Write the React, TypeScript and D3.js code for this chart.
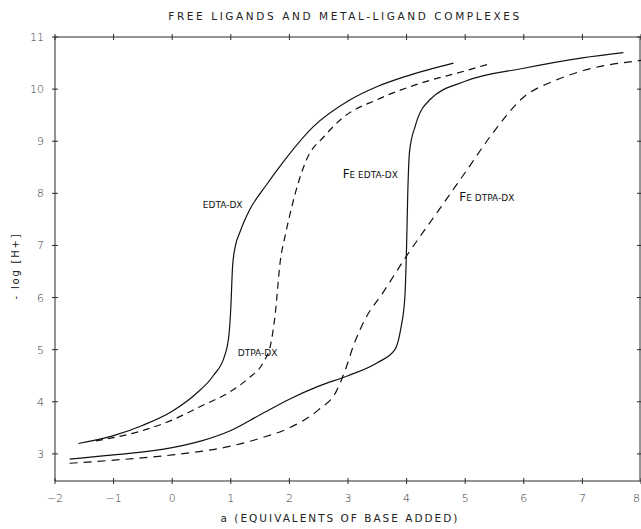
import React, { useEffect, useRef } from 'react';
import * as d3 from 'd3';

// curves: [a, -log[H+]]
const edta: [number, number][] = [
  [-1.6, 3.2], [-1, 3.35], [-0.5, 3.55], [0, 3.82], [0.4, 4.15], [0.7, 4.5], [0.9, 4.9],
  [0.97, 5.3], [1.0, 5.8], [1.03, 6.59], [1.08, 7.0], [1.15, 7.24], [1.32, 7.68], [1.6, 8.15],
  [1.88, 8.58], [2.4, 9.27], [3.03, 9.79], [3.5, 10.05], [4.0, 10.25], [4.8, 10.5],
];
const dtpa: [number, number][] = [
  [-1.3, 3.25], [-0.5, 3.45], [0, 3.65], [0.5, 3.92], [1.0, 4.2], [1.3, 4.45], [1.55, 4.75],
  [1.68, 5.1], [1.76, 5.7], [1.84, 6.66], [1.93, 7.2], [2.0, 7.55], [2.1, 8.0], [2.29, 8.64], [2.6, 9.1],
  [2.91, 9.45], [3.5, 9.8], [4.2, 10.1], [5.0, 10.35], [5.4, 10.48],
];
const feEdta: [number, number][] = [
  [-1.75, 2.9], [-1, 2.98], [0, 3.12], [0.5, 3.25], [1, 3.45], [1.5, 3.75], [2, 4.05],
  [2.5, 4.3], [3, 4.5], [3.5, 4.75], [3.8, 5.0], [3.9, 5.4], [3.97, 6.0], [4.0, 7.0],
  [4.02, 8.0], [4.05, 8.8], [4.15, 9.3], [4.4, 9.8], [5, 10.15], [6, 10.4], [7, 10.6], [7.7, 10.7],
];
const feDtpa: [number, number][] = [
  [-1.75, 2.82], [-1, 2.88], [0, 2.98], [1, 3.15], [1.5, 3.3], [2, 3.5], [2.5, 3.85],
  [2.8, 4.2], [2.95, 4.6], [3.1, 5.1], [3.3, 5.6], [3.6, 6.1], [4.0, 6.8], [4.5, 7.6],
  [5, 8.4], [5.5, 9.2], [6, 9.85], [6.5, 10.15], [7, 10.35], [8, 10.55],
];

const xTicks = [-2, -1, 0, 1, 2, 3, 4, 5, 6, 7, 8];
const yTicks = [3, 4, 5, 6, 7, 8, 9, 10, 11];

const labels = [
  { big: '', small: 'EDTA-DX', x: 1.2, y: 7.72, anchor: 'end' },
  { big: '', small: 'DTPA-DX', x: 1.12, y: 4.88, anchor: 'start' },
  { big: 'F', small: 'E EDTA-DX', x: 3.85, y: 8.3, anchor: 'end' },
  { big: 'F', small: 'E DTPA-DX', x: 4.9, y: 7.85, anchor: 'start' },
];

const App = () => {
  const svgRef = useRef<SVGSVGElement>(null);

  useEffect(() => {
    document.body.style.margin = '0';
    const svg = d3.select(svgRef.current);
    svg.selectAll('*').remove();

    const x = d3.scaleLinear().domain([-2, 8]).range([55, 641]);
    const y = d3.scaleLinear().domain([2.48, 11]).range([481, 37]);
    const ink = '#2a2a2a';
    const font = 'DejaVu Sans, sans-serif';

    // frame
    const x0 = x(-2), x1 = x(8), yb = y(2.48), yt = y(11);
    svg.append('path')
      .attr('d', `M${x0},${yb}H${x1}M${x0},${yb}V${yt}H${x1}M${x1 - 1},${yt}V${yb}`)
      .attr('fill', 'none').attr('stroke', ink).attr('stroke-width', 1);

    // tick crosses
    xTicks.forEach(t => {
      [yb, yt].forEach(yy => {
        svg.append('line').attr('x1', x(t)).attr('x2', x(t)).attr('y1', yy - 3).attr('y2', yy + 3)
          .attr('stroke', ink).attr('stroke-width', 1);
      });
    });
    yTicks.forEach(t => {
      [x0, x1 - 1].forEach(xx => {
        svg.append('line').attr('x1', xx - 3).attr('x2', xx + 3).attr('y1', y(t)).attr('y2', y(t))
          .attr('stroke', ink).attr('stroke-width', 1);
      });
    });

    // tick labels
    svg.append('g').selectAll('text').data(xTicks).join('text')
      .attr('x', d => (d === 8 ? x(d) - 1 : x(d))).attr('y', 502)
      .attr('text-anchor', d => (d === 8 ? 'end' : 'middle'))
      .style('font-family', font).style('font-size', '11px').style('font-weight', '300').attr('fill', '#333')
      .text(d => (d < 0 ? '\u2212' + Math.abs(d) : String(d)));
    svg.append('g').selectAll('text').data(yTicks).join('text')
      .attr('x', 44).attr('y', d => y(d) + 4).attr('text-anchor', 'end')
      .style('font-family', font).style('font-size', '11px').style('font-weight', '300').attr('fill', '#333')
      .text(d => String(d));

    // title and axis labels
    svg.append('text').attr('x', 345).attr('y', 20).attr('text-anchor', 'middle')
      .style('font-family', font).style('font-size', '10.5px').style('letter-spacing', '2.6px').attr('fill', '#222')
      .text('FREE LIGANDS AND METAL-LIGAND COMPLEXES');
    svg.append('text').attr('x', 340).attr('y', 522).attr('text-anchor', 'middle')
      .style('font-family', font).style('font-size', '10.5px').style('letter-spacing', '2px').attr('fill', '#222')
      .text('a (EQUIVALENTS OF BASE ADDED)');
    svg.append('text').attr('transform', 'translate(19,266) rotate(-90)').attr('text-anchor', 'middle')
      .style('font-family', font).style('font-size', '10px').style('letter-spacing', '1.8px').attr('fill', '#222')
      .text('- log [H+]');

    // curves
    const line = d3.line<[number, number]>().x(d => x(d[0])).y(d => y(d[1])).curve(d3.curveMonotoneX);
    const series = [
      { data: edta, dash: null },
      { data: dtpa, dash: '7,5' },
      { data: feEdta, dash: null },
      { data: feDtpa, dash: '8,6' },
    ];
    series.forEach(s => {
      svg.append('path').attr('d', line(s.data)).attr('fill', 'none')
        .attr('stroke', '#111').attr('stroke-width', 1.2)
        .attr('stroke-dasharray', s.dash);
    });

    // curve labels
    labels.forEach(l => {
      const t = svg.append('text').attr('x', x(l.x)).attr('y', y(l.y)).attr('text-anchor', l.anchor)
        .style('font-family', font).attr('fill', '#111');
      if (l.big) t.append('tspan').style('font-size', '12px').text(l.big);
      t.append('tspan').style('font-size', '9px').text(l.small);
    });
  }, []);

  return (
    <svg ref={svgRef} width={641} height={529} style={{ position: 'absolute', left: 0, top: 0, background: '#fff' }} />
  );
};

export default App;
